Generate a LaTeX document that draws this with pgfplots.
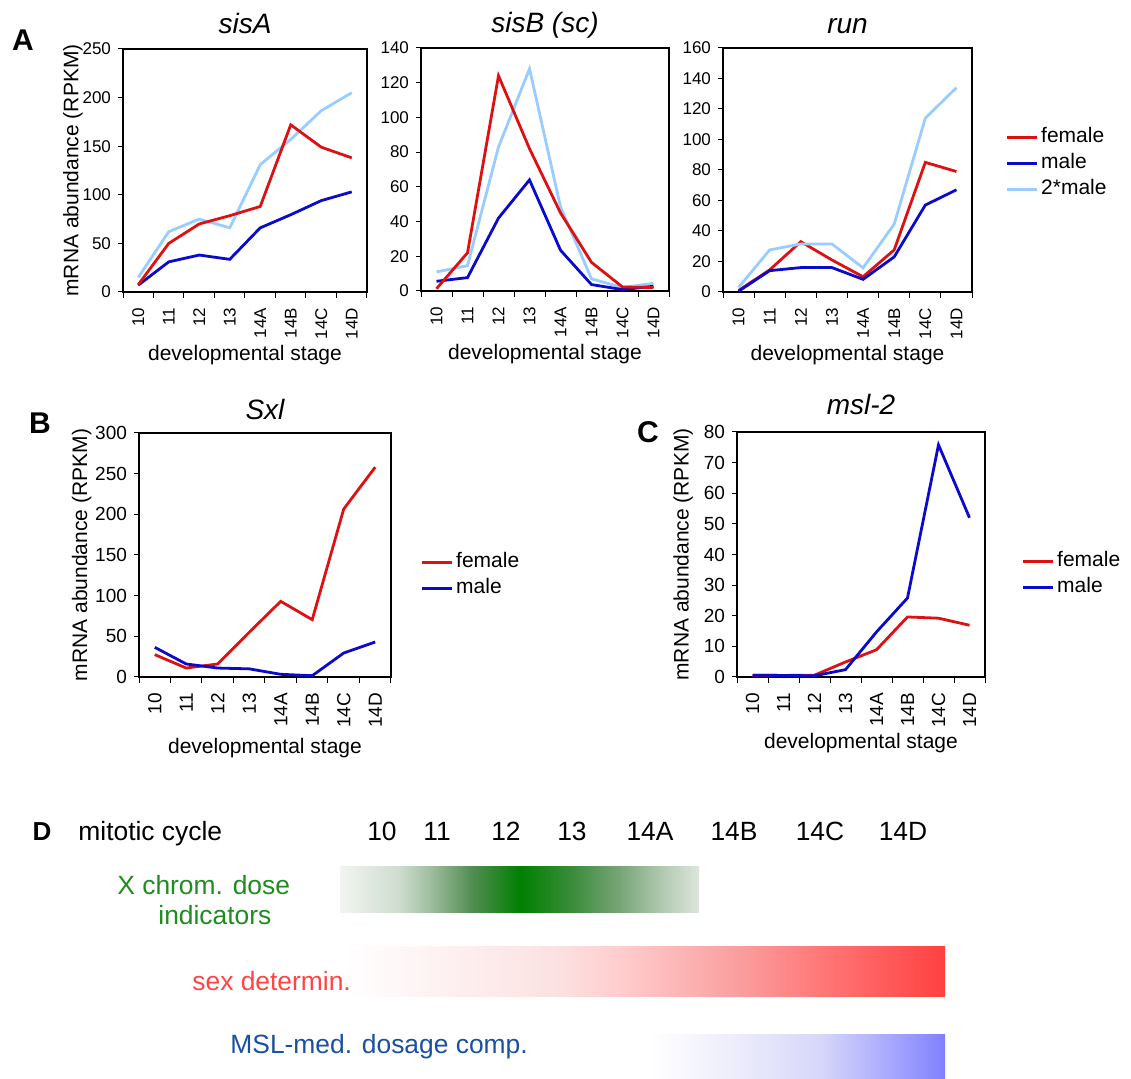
\documentclass[border=0pt]{standalone}
\usepackage{pgfplots}
\usepackage{pgfplotstable}
\pgfplotsset{compat=1.18}
\usepackage{fontspec}
\setmainfont{Liberation Sans}

\definecolor{Fem}{HTML}{DD1111}
\definecolor{Mal}{HTML}{0A0ACC}
\definecolor{MalTwo}{HTML}{99CCFF}
\definecolor{TxtGreen}{HTML}{1E8C1E}
\definecolor{TxtRed}{HTML}{FF4444}
\definecolor{TxtBlue}{HTML}{1A50A0}

% gradient stops, read off the bars of panel D
\definecolor{gA}{RGB}{242,245,242}
\definecolor{gB}{RGB}{205,220,205}
\definecolor{gC}{RGB}{160,190,160}
\definecolor{gD}{RGB}{80,140,80}
\definecolor{gE}{RGB}{0,128,0}
\definecolor{gF}{RGB}{60,140,60}
\definecolor{gG}{RGB}{120,165,120}
\definecolor{gH}{RGB}{175,200,175}
\definecolor{gI}{RGB}{220,230,220}
\definecolor{rA}{RGB}{255,255,255}
\definecolor{rB}{RGB}{252,225,225}
\definecolor{rC}{RGB}{255,205,205}
\definecolor{rD}{RGB}{250,160,160}
\definecolor{rE}{RGB}{255,120,120}
\definecolor{rF}{RGB}{255,64,64}
\definecolor{bA}{RGB}{255,255,255}
\definecolor{bB}{RGB}{240,240,252}
\definecolor{bC}{RGB}{215,215,250}
\definecolor{bD}{RGB}{170,170,255}
\definecolor{bE}{RGB}{128,128,255}

\pgfdeclarehorizontalshading{greenbar}{100bp}{color(0bp)=(gA); color(25bp)=(gA); color(33.4bp)=(gB); color(37.5bp)=(gC); color(43.5bp)=(gD); color(50.1bp)=(gE); color(57.5bp)=(gF); color(64bp)=(gG); color(69.6bp)=(gH); color(75bp)=(gI); color(100bp)=(gI)}
\pgfdeclarehorizontalshading{redbar}{100bp}{color(0bp)=(rA); color(25bp)=(rA); color(42.7bp)=(rB); color(47.9bp)=(rC); color(57.4bp)=(rD); color(64.6bp)=(rE); color(75bp)=(rF); color(100bp)=(rF)}
\pgfdeclarehorizontalshading{bluebar}{100bp}{color(0bp)=(bA); color(25bp)=(bA); color(36.9bp)=(bB); color(53.8bp)=(bC); color(65.2bp)=(bD); color(75bp)=(bE); color(100bp)=(bE)}

% stage index: 1=10 2=11 3=12 4=13 5=14A 6=14B 7=14C 8=14D
\pgfplotstableread{
x fem mal malx
1 7.5 7 15
2 50 31 62
3 70 38 75
4 78.5 33.6 66
5 88 66 131
6 172 79.5 157
7 149 94 186.5
8 138 103 205
}\sisA
\pgfplotstableread{
x fem mal malx
1 1.3 5.6 11
2 22 7.7 14.6
3 124 42 83
4 82 64 128
5 45 23.5 48.5
6 16.5 3.7 7
7 2.3 0.8 2
8 2 2.7 4.4
}\sisB
\pgfplotstableread{
x fem mal malx
1 1 0.5 3
2 14.5 14 27.6
3 33 16 31.5
4 21 16 31.5
5 10 8.3 15.8
6 27.6 23 44.5
7 85 57 114
8 79 67 134
}\run
\pgfplotstableread{
x fem mal
1 27.5 36.5
2 11 16
3 16 11
4 55 10
5 93 3.3
6 70.5 1.6
7 206.5 29.5
8 258 43
}\sxl
\pgfplotstableread{
x fem mal
1 0.6 0.6
2 0.5 0.5
3 0.6 0.4
4 4.9 2.4
5 8.9 14.7
6 19.6 25.8
7 19.2 75.8
8 16.9 52
}\msl

\pgfplotsset{
  panel/.style={
    scale only axis, anchor=north west,
    xmin=0.5, xmax=8.5, ymin=0,
    xtick={1,...,8}, xticklabels={10,11,12,13,14A,14B,14C,14D},
    minor xtick={0.5,1.5,...,8.5},
    major x tick style={draw=none},
    xtick pos=bottom, ytick pos=left,
    tick align=outside,
    major tick length=2.5pt, minor tick length=3pt,
    tick style={black, line width=0.5pt},
    axis line style={line width=1.2pt},
    tick label style={font=\fontsize{8.5}{10}\selectfont},
    % rotated labels: xshift moves them down the page
    xticklabel style={rotate=90, anchor=east, xshift=-2pt},
    /pgf/number format/assume math mode=true,
    label style={font=\fontsize{10.5}{12}\selectfont},
    xlabel style={yshift=1.5pt},
    ylabel style={yshift=-7pt},
    title style={font=\fontsize{14}{16}\selectfont\itshape, at={(0.5,1)}, anchor=base, yshift=1.5pt},
    every axis plot/.append style={line width=1.4pt, mark=none},
    xlabel={developmental stage},
    legend cell align=left,
    legend image code/.code={\draw[##1, line width=1.4pt] (0pt,0pt) -- (15pt,0pt);},
    legend style={draw=none, fill=none, inner sep=0pt, row sep=0pt,
      font=\fontsize{10.5}{12}\selectfont,
      nodes={inner sep=1.5pt, text height=7.5pt, text depth=2.5pt}},
  },
  bigticks/.style={tick label style={font=\fontsize{9.5}{11}\selectfont}},
  toprow/.style={xlabel style={yshift=2.5pt}},
}

\begin{document}
\begin{tikzpicture}
\useasboundingbox (0pt,0pt) rectangle (565.5pt,-539.5pt);

% ---- A ----  (positions: pixel/2 in pt, y downwards)
\begin{axis}[panel, toprow, at={(61.5pt,-24.5pt)}, width=122pt, height=121.5pt,
  ymax=250, ytick={0,50,...,250}, title={sisA},
  ylabel={mRNA abundance (RPKM)}]
\addplot[MalTwo] table[x=x,y=malx]{\sisA};
\addplot[Mal] table[x=x,y=mal]{\sisA};
\addplot[Fem] table[x=x,y=fem]{\sisA};
\end{axis}

\begin{axis}[panel, toprow, at={(210.5pt,-24pt)}, width=124pt, height=121.5pt,
  ymax=140, ytick={0,20,...,140}, title={sisB (sc)}]
\addplot[MalTwo] table[x=x,y=malx]{\sisB};
\addplot[Mal] table[x=x,y=mal]{\sisB};
\addplot[Fem] table[x=x,y=fem]{\sisB};
\end{axis}

\begin{axis}[panel, toprow, at={(361.5pt,-24pt)}, width=124.5pt, height=122pt,
  ymax=160, ytick={0,20,...,160}, title={run}, title style={yshift=-0.5pt},
  legend style={at={(1,0.525)}, anchor=west, xshift=16.5pt}]
\addplot[Fem] table[x=x,y=fem]{\run};
\addplot[Mal] table[x=x,y=mal]{\run};
\addplot[MalTwo] table[x=x,y=malx]{\run};
\legend{female, male, 2*male}
\end{axis}

% ---- B ----
\begin{axis}[panel, bigticks, at={(69.5pt,-216.5pt)}, width=126pt, height=122pt,
  ymax=300, ytick={0,50,...,300}, title={Sxl},
  title style={yshift=-1pt},
  ylabel={mRNA abundance (RPKM)}, ylabel style={yshift=2pt},
  legend style={at={(1,0.416)}, anchor=west, xshift=14.5pt}]
\addplot[Fem] table[x=x,y=fem]{\sxl};
\addplot[Mal] table[x=x,y=mal]{\sxl};
\legend{female, male}
\end{axis}

% ---- C ----
\begin{axis}[panel, bigticks, at={(368.5pt,-216pt)}, width=124pt, height=122.5pt,
  ymax=80, ytick={0,10,...,80}, title={msl-2},
  title style={yshift=1pt},
  ylabel={mRNA abundance (RPKM)}, ylabel style={yshift=5.5pt},
  xlabel style={yshift=2.5pt},
  legend style={at={(1,0.417)}, anchor=west, xshift=18pt}]
\addplot[Fem] table[x=x,y=fem]{\msl};
\addplot[Mal] table[x=x,y=mal]{\msl};
\legend{female, male}
\end{axis}

\begin{scope}[x=0.5pt, y=-0.5pt]
% panel letters
\node[font=\fontsize{15}{17}\selectfont\bfseries] at (23,40) {A};
\node[font=\fontsize{15}{17}\selectfont\bfseries] at (40,423) {B};
\node[font=\fontsize{15}{17}\selectfont\bfseries] at (648,432) {C};

% ---- D ----
\begin{scope}[font=\fontsize{13.2}{15}\selectfont]
\node[font=\fontsize{13}{15}\selectfont\bfseries, anchor=base] at (42,841) {D};
\node[anchor=base west, inner sep=0pt] at (78,841) {mitotic cycle};
\foreach \xx/\lab in {382/10, 437/11, 506/12, 572/13, 650/14A, 734/14B, 820/14C, 903/14D}
  \node[anchor=base, inner sep=0pt] at (\xx,841) {\lab};
\shade[shading=greenbar] (340,867) rectangle (699,913);
\shade[shading=redbar] (345,947) rectangle (945,996);
\shade[shading=bluebar] (650,1034) rectangle (945,1079);
\node[anchor=base west, inner sep=0pt, text=TxtGreen] at (117,895) {X chrom. dose};
\node[anchor=base west, inner sep=0pt, text=TxtGreen] at (158,925) {indicators};
\node[anchor=base west, inner sep=0pt, text=TxtRed] at (192,991) {sex determin.};
\node[anchor=base west, inner sep=0pt, text=TxtBlue] at (230,1053) {MSL-med. dosage comp.};
\end{scope}
\end{scope}
\end{tikzpicture}
\end{document}
